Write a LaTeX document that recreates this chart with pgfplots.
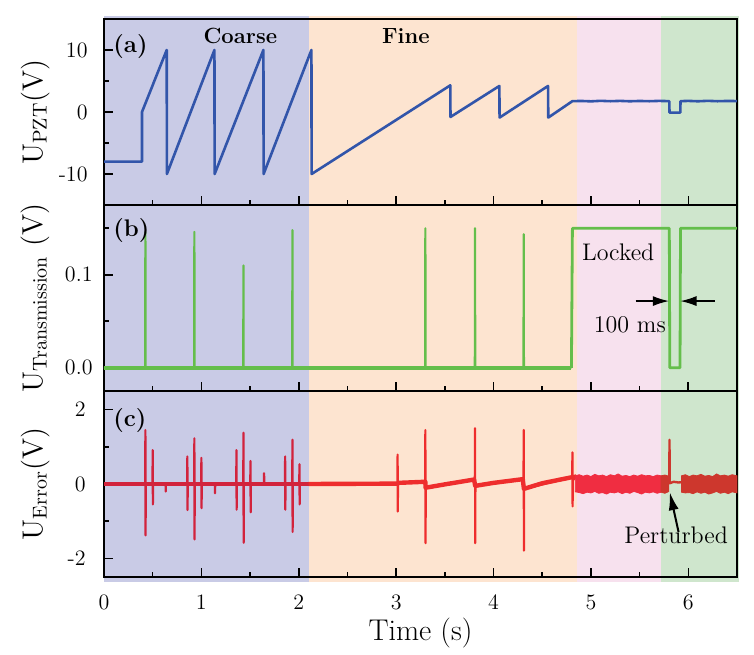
\documentclass[border=0pt]{standalone}
\usepackage{pgfplots}
\pgfplotsset{compat=1.18}
\usetikzlibrary{arrows.meta}

\definecolor{bgA}{RGB}{201,203,230}
\definecolor{bgB}{RGB}{253,228,208}
\definecolor{bgC}{RGB}{247,225,238}
\definecolor{bgD}{RGB}{207,230,205}
\definecolor{pzt}{RGB}{50,85,170}
\definecolor{trans}{RGB}{100,190,75}
\definecolor{errA}{RGB}{210,35,60}
\definecolor{errB}{RGB}{238,45,45}
\definecolor{errC}{RGB}{240,45,65}
\definecolor{errD}{RGB}{205,55,45}

\pgfplotsset{
  box/.style={width=316.5pt, height=93pt, scale only axis,
    xmin=0, xmax=6.5, clip=false},
  panel/.style={box,
    tick align=inside, tick pos=left,
    xtick={0,1,2,3,4,5,6}, minor xtick={0.5,1.5,2.5,3.5,4.5,5.5},
    major tick length=4.5pt, minor tick length=2.5pt,
    every tick/.style={black, line width=0.8pt},
    axis line style={line width=0.9pt},
    tick label style={font=\fontsize{11}{13}\selectfont},
    ylabel style={font=\fontsize{14.4}{17}\selectfont,
      at={(axis description cs:-0.0853,0.5)}, anchor=south, inner sep=0pt},
  },
}
\tikzset{
  plabel/.style={anchor=north west, inner sep=0pt, xshift=4.5pt,
    font=\fontsize{12}{14}\selectfont\bfseries},
}

% shaded stages (coarse, fine, locked, perturbed), drawn in a hidden axis under each panel
\newcommand{\bands}[4]{%
  \begin{axis}[box, hide axis, at={(52pt,#1)}, anchor=south west, ymin=#2, ymax=#3]
  \fill[bgA] (axis cs:0,#2) rectangle (axis cs:2.1,#4);
  \fill[bgB] (axis cs:2.1,#2) rectangle (axis cs:4.86,#4);
  \fill[bgC] (axis cs:4.86,#2) rectangle (axis cs:5.72,#4);
  \fill[bgD] (axis cs:5.72,#2) rectangle (axis cs:6.52,#4);
  \end{axis}
}

\begin{document}
\begin{tikzpicture}
\useasboundingbox (0,0) rectangle (377pt,327pt);

\bands{224.5pt}{-15}{15}{15.55}
\bands{131.5pt}{-0.025}{0.175}{0.175}
\bands{38.5pt}{-2.5}{2.5}{2.5}
\begin{axis}[box, hide axis, at={(52pt,38.5pt)}, anchor=south west, ymin=-2.5, ymax=2.5]
  \fill[bgA] (axis cs:0,-2.63) rectangle (axis cs:2.1,-2.5);
  \fill[bgB] (axis cs:2.1,-2.63) rectangle (axis cs:4.86,-2.5);
  \fill[bgC] (axis cs:4.86,-2.63) rectangle (axis cs:5.72,-2.5);
  \fill[bgD] (axis cs:5.72,-2.63) rectangle (axis cs:6.52,-2.5);
\end{axis}

% (a) PZT voltage
\begin{axis}[panel, at={(52pt,224.5pt)}, anchor=south west,
  ymin=-15, ymax=15, ytick={-10,0,10}, yticklabels={-10,0,10},
  minor ytick={-5,5}, xticklabels={},
  yticklabel style={xshift=-4.7pt},
  ylabel={$\mathrm{U_{PZT}(V)}$}]
  \addplot[pzt, line width=1.3pt, line join=round] coordinates {
    (0,-8) (0.39,-8) (0.39,0) (0.644,10) (0.646,-10)
    (1.134,10) (1.136,-10) (1.637,10) (1.639,-10)
    (2.13,10) (2.132,-10) (3.556,4.3) (3.558,-0.8)
    (4.06,4.2) (4.062,-0.9) (4.56,4.2) (4.562,-0.9) (4.81,1.75)
    (4.9,1.78) (5.0,1.72) (5.1,1.8) (5.2,1.74) (5.3,1.79) (5.4,1.73)
    (5.5,1.78) (5.6,1.74) (5.7,1.79) (5.805,1.75) (5.807,-0.1)
    (5.918,-0.1) (5.92,1.75) (6.0,1.79) (6.1,1.73) (6.2,1.8)
    (6.3,1.74) (6.4,1.78) (6.5,1.76)
  };
  \node[plabel, yshift=-7.5pt] at (rel axis cs:0,1) {(a)};
  \node[anchor=base, font=\fontsize{11}{13}\selectfont\bfseries] at (axis cs:1.40,11.0) {Coarse};
  \node[anchor=base, font=\fontsize{11}{13}\selectfont\bfseries] at (axis cs:3.10,11.0) {Fine};
\end{axis}

% (b) transmission
\begin{axis}[panel, at={(52pt,131.5pt)}, anchor=south west,
  ymin=-0.025, ymax=0.175, ytick={0,0.1}, yticklabels={0.0,0.1},
  minor ytick={0.05,0.15}, xticklabels={},
  yticklabel style={xshift=-2.2pt},
  ylabel={$\mathrm{U_{Transmission}}$ (V)}]
  \addplot[trans, line width=2pt] coordinates {(0,0) (4.8,0)};
  \addplot[trans, line width=1.1pt, line join=round] coordinates {
    (0,0) (0.423,0) (0.425,0.146) (0.427,0)
    (0.926,0) (0.928,0.146) (0.930,0)
    (1.430,0) (1.432,0.110) (1.434,0)
    (1.933,0) (1.935,0.148) (1.937,0)
    (3.298,0) (3.300,0.150) (3.302,0)
    (3.808,0) (3.810,0.150) (3.812,0)
    (4.308,0) (4.310,0.1435) (4.312,0)
    (4.800,0)
  };
  \addplot[trans, line width=1.4pt, line join=round] coordinates {
    (4.800,0) (4.810,0.150) (5.805,0.150) (5.810,0)
    (5.915,0) (5.920,0.150) (6.5,0.150)
  };
  \node[plabel, yshift=-6.5pt] at (rel axis cs:0,1) {(b)};
  \node[anchor=base, font=\fontsize{12}{14}\selectfont] at (axis cs:5.28,0.1152) {Locked};
  \node[anchor=base, font=\fontsize{12}{14}\selectfont] at (axis cs:5.40,0.0374) {100 ms};
  \draw[line width=0.6pt, -{Latex[length=8pt,width=5pt]}] (axis cs:5.46,0.0717) -- (axis cs:5.80,0.0717);
  \draw[line width=0.6pt, -{Latex[length=8pt,width=5pt]}] (axis cs:6.27,0.0717) -- (axis cs:5.92,0.0717);
\end{axis}

% (c) error signal
\begin{axis}[panel, at={(52pt,38.5pt)}, anchor=south west,
  ymin=-2.5, ymax=2.5, ytick={-2,0,2}, yticklabels={-2,0,2},
  minor ytick={-1,1}, xticklabels={0,1,2,3,4,5,6},
  yticklabel style={xshift=-5.7pt},
  xticklabel style={yshift=-5.3pt},
  ylabel={$\mathrm{U_{Error}(V)}$},
  xlabel={Time (s)},
  xlabel style={font=\fontsize{15}{18}\selectfont,
    at={(axis description cs:0.5,-0.342)}, anchor=base}]
  % baselines
  \addplot[errA, line width=2.2pt] coordinates {(0,0) (2.1,0)};
  \addplot[errB, line width=2.2pt, line join=round] coordinates {
    (2.1,0) (3.0,0.01) (3.015,0.01) (3.017,0.03) (3.3,0.06) (3.302,-0.1)
    (3.5,-0.01) (3.8,0.12) (3.812,-0.05) (4.0,0.03) (4.3,0.13)
    (4.312,-0.13) (4.5,0.02) (4.8,0.18) (4.85,0.2)
  };
  % coarse scan
  \addplot[errA, line width=1.1pt, line join=round] coordinates {
    (0,0) (0.423,0) (0.425,1.45) (0.427,-1.38) (0.429,0)
    (0.498,0) (0.50,0.91) (0.502,-0.55) (0.504,0)
    (0.632,0) (0.634,-0.2) (0.636,0)
    (0.854,0) (0.856,0.74) (0.858,-0.70) (0.86,0)
    (0.926,0) (0.928,1.23) (0.930,-1.49) (0.932,0)
    (0.998,0) (1.0,0.70) (1.002,-0.65) (1.004,0)
    (1.138,0) (1.14,-0.25) (1.142,0)
    (1.358,0) (1.36,0.91) (1.362,-0.69) (1.364,0)
    (1.430,0) (1.432,1.38) (1.434,-1.58) (1.436,0)
    (1.502,0) (1.504,0.62) (1.506,-0.76) (1.508,0)
    (1.642,0) (1.644,0.29) (1.646,0)
    (1.858,0) (1.86,0.74) (1.862,-0.69) (1.864,0)
    (1.933,0) (1.935,1.19) (1.937,-1.29) (1.939,0)
    (2.005,0) (2.007,0.53) (2.009,-0.55) (2.011,0)
    (2.1,0)
  };
  % fine scan
  \addplot[errB, line width=1.1pt, line join=round] coordinates {
    (2.1,0) (3.013,0.01) (3.015,0.79) (3.017,-0.74) (3.019,0.03)
    (3.298,0.06) (3.30,1.45) (3.302,-1.59) (3.304,-0.1)
    (3.808,0.12) (3.81,1.50) (3.812,-1.59) (3.814,-0.05)
    (4.308,0.13) (4.31,1.45) (4.312,-1.79) (4.314,-0.13)
    (4.808,0.18) (4.81,0.85) (4.812,-0.6) (4.814,0.1) (4.85,0.2)
  };
  % locked: noise band
  \addplot[errC, fill=errC, line width=0.4pt] coordinates {
    (4.84,0.22) (4.88,0.25) (4.92,0.21) (4.96,0.24) (5.0,0.2) (5.04,0.26)
    (5.08,0.22) (5.12,0.24) (5.16,0.2) (5.2,0.25) (5.24,0.22) (5.28,0.27)
    (5.32,0.21) (5.36,0.23) (5.4,0.2) (5.44,0.24) (5.48,0.21) (5.52,0.25)
    (5.56,0.22) (5.6,0.23) (5.64,0.2) (5.68,0.24) (5.72,0.22)
    (5.72,-0.22) (5.68,-0.25) (5.64,-0.21) (5.6,-0.24) (5.56,-0.22)
    (5.52,-0.27) (5.48,-0.23) (5.44,-0.2) (5.4,-0.25) (5.36,-0.22)
    (5.32,-0.26) (5.28,-0.21) (5.24,-0.24) (5.2,-0.22) (5.16,-0.27)
    (5.12,-0.23) (5.08,-0.25) (5.04,-0.2) (5.0,-0.24) (4.96,-0.22)
    (4.92,-0.26) (4.88,-0.23) (4.84,-0.21)
  } -- cycle;
  % perturbed
  \addplot[errD, fill=errD, line width=0.4pt] coordinates {
    (5.72,0.22) (5.76,0.24) (5.80,0.21) (5.80,-0.2) (5.76,-0.25) (5.72,-0.22)
  } -- cycle;
  \addplot[errD, line width=1.2pt, line join=round] coordinates {
    (5.80,0.05) (5.805,0.05) (5.807,1.19) (5.809,0.02) (5.85,0.06)
    (5.9,0.04) (5.93,0.05)
  };
  \addplot[errD, fill=errD, line width=0.4pt] coordinates {
    (5.93,0.22) (5.97,0.25) (6.01,0.2) (6.05,0.24) (6.09,0.22) (6.13,0.26)
    (6.17,0.21) (6.21,0.23) (6.25,0.2) (6.29,0.27) (6.33,0.22) (6.37,0.24)
    (6.41,0.21) (6.45,0.25) (6.5,0.22)
    (6.5,-0.24) (6.45,-0.21) (6.41,-0.26) (6.37,-0.22) (6.33,-0.25)
    (6.29,-0.2) (6.25,-0.24) (6.21,-0.27) (6.17,-0.22) (6.13,-0.25)
    (6.09,-0.21) (6.05,-0.26) (6.01,-0.23) (5.97,-0.24) (5.93,-0.22)
  } -- cycle;
  \node[plabel, yshift=-8.5pt] at (rel axis cs:0,1) {(c)};
  \draw[line width=1pt, -{Latex[length=9pt,width=5pt]}] (axis cs:5.90,-1.29) -- (axis cs:5.81,-0.22);
  \node[anchor=base, font=\fontsize{12}{14}\selectfont] at (axis cs:5.875,-1.61) {Perturbed};
\end{axis}
\end{tikzpicture}
\end{document}
